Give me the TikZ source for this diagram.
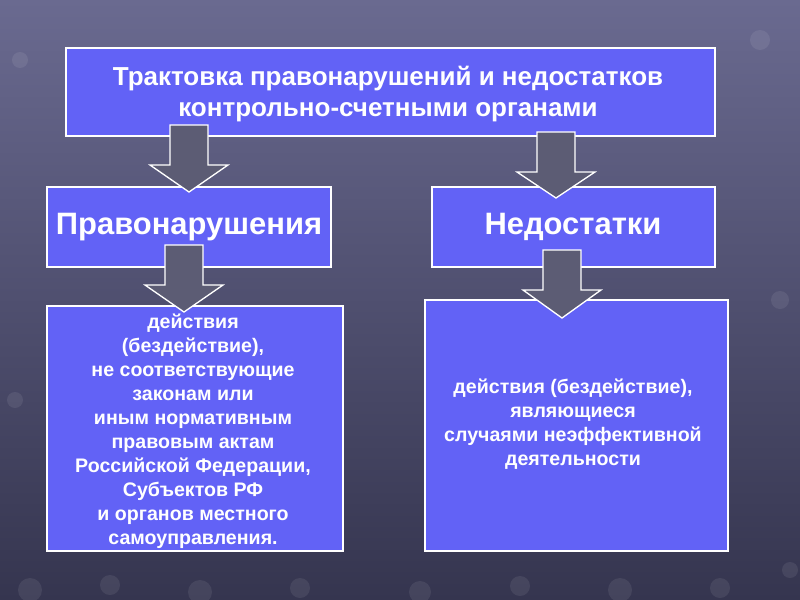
\documentclass[tikz,border=0pt]{standalone}
\usepackage{fontspec}
\setmainfont{Liberation Sans}
\begin{document}
\begin{tikzpicture}[x=0.75pt,y=-0.75pt,
  box/.style={draw=white,line width=0.8pt,fill=boxblue},
  txt/.style={text=white,font=\bfseries,align=center},
  blk/.style={draw=white,line width=1pt,fill=arrowgray,line join=miter}]
\definecolor{boxblue}{HTML}{6262F6}
\definecolor{arrowgray}{HTML}{5C5C74}
\definecolor{bgA}{HTML}{6A6A90}
\definecolor{bgB}{HTML}{35354F}
\shade[top color=bgA,bottom color=bgB] (0,0) rectangle (800,600);
\useasboundingbox (0,0) rectangle (800,600);
\foreach \x/\y/\r in {30/590/12,110/585/10,200/592/12,300/588/10,420/592/11,520/586/10,620/590/12,720/588/10,790/570/8,760/40/10,20/60/8,780/300/9,15/400/8}
  \fill[white,opacity=0.08] (\x,\y) circle (\r);
\newcommand{\blockarrow}[5]{%
  \draw[blk] (#1,#3) -- (#2,#3) -- (#2,#4) -- ({#2+20},#4) -- ({(#1+#2)/2},#5) -- ({#1-20},#4) -- (#1,#4) -- cycle;}
\draw[box] (66,48) rectangle (715,136);
\node[txt,font=\bfseries\fontsize{19.5}{23}\selectfont] (title) at (388,94) {Трактовка правонарушений и недостатков\\контрольно-счетными органами};
\draw[box] (47,187) rectangle (331,267);
\node[txt,font=\bfseries\fontsize{23.2}{27}\selectfont] (pr) at (189,227) {Правонарушения};
\draw[box] (432,187) rectangle (715,267);
\node[txt,font=\bfseries\fontsize{23.2}{27}\selectfont] (ned) at (573,227) {Недостатки};
\draw[box] (47,306) rectangle (343,551);
\node[txt,font=\bfseries\fontsize{14.7}{18}\selectfont] (l) at (193,431) {действия\\(бездействие),\\не соответствующие\\законам или\\иным нормативным\\правовым  актам\\Российской Федерации,\\Субъектов РФ\\и органов местного\\самоуправления.};
\draw[box] (425,300) rectangle (728,551);
\node[txt,font=\bfseries\fontsize{14.7}{18}\selectfont] (r) at (573,424) {действия (бездействие),\\являющиеся\\случаями неэффективной\\деятельности};
\blockarrow{170}{208}{125}{165}{192}
\blockarrow{537}{575}{132}{172}{198}
\blockarrow{165}{203}{245}{285}{312}
\blockarrow{543}{581}{250}{290}{318}
\end{tikzpicture}
\end{document}
